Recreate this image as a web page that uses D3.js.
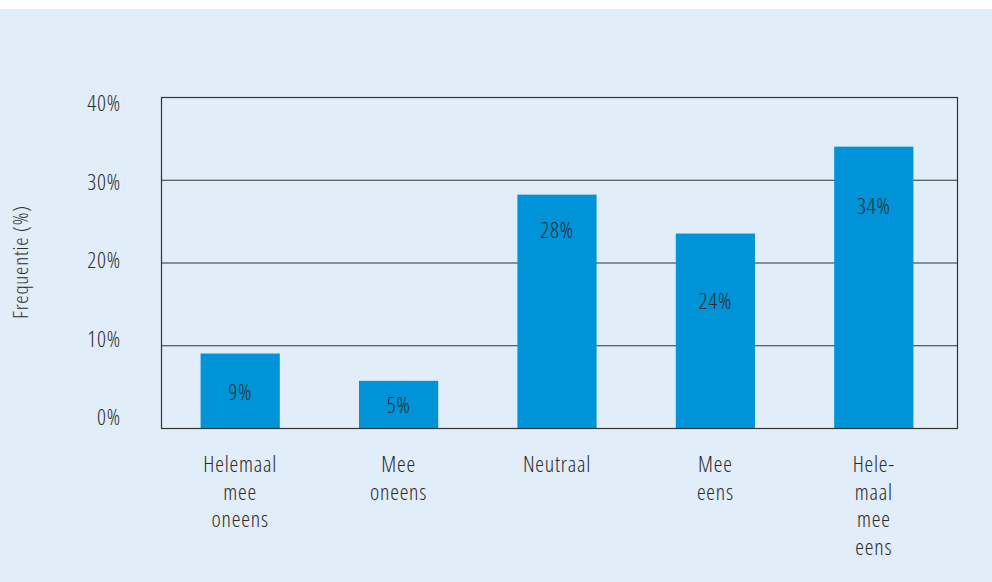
<!DOCTYPE html>
<html><head><meta charset="utf-8">
<script src="https://cdn.jsdelivr.net/npm/d3@7"></script>
<style>
html,body{margin:0;padding:0;background:#fff;}
svg text{font-family:"Open Sans","Noto Sans",sans-serif;fill:#2a2a2a;font-stretch:75%;letter-spacing:0.8px;}
</style></head>
<body><svg id="c" width="992" height="582"></svg>
<script>
const categories = [["Helemaal","mee","oneens"],["Mee","oneens"],["Neutraal"],["Mee","eens"],["Hele-","maal","mee","eens"]];
const values = [9.0, 5.7, 28.2, 23.5, 34.0];
const valueLabels = ["9%","5%","28%","24%","34%"];
const labelAt = [4.5, 2.9, 24.0, 15.5, 26.9];
const yTicks = [0,10,20,30,40];
const yTitle = "Frequentie (%)";

const svg = d3.select("#c");
svg.append("rect").attr("x",0).attr("y",9).attr("width",992).attr("height",573).attr("fill","#e1edf8");

const L=161, R=957, T=97, B=428;
const x = d3.scaleBand().domain(d3.range(values.length)).range([L,953]).paddingInner(0.5).paddingOuter(0.25);
const y = d3.scaleLinear().domain([0,40]).range([B,T]);
const yLab = d3.scaleLinear().domain([0,40]).range([416,102]);

svg.append("g").selectAll("line").data(yTicks.filter(d=>d>0&&d<40)).join("line")
  .attr("x1",L).attr("x2",R).attr("y1",d=>y(d)+0.5).attr("y2",d=>y(d)+0.5)
  .attr("stroke","#333").attr("stroke-width",1.2);

svg.append("g").selectAll("rect").data(values).join("rect")
  .attr("x",(d,i)=>x(i)).attr("width",x.bandwidth())
  .attr("y",d=>y(d)).attr("height",d=>B-y(d)).attr("fill","#0093d8");

svg.append("rect").attr("x",L+0.5).attr("y",T+0.5).attr("width",R-L).attr("height",B-T)
  .attr("fill","none").attr("stroke","#333").attr("stroke-width",1.2);

svg.append("g").selectAll("text").data(valueLabels).join("text")
  .attr("x",(d,i)=>x(i)+x.bandwidth()/2).attr("y",(d,i)=>y(labelAt[i]))
  .attr("text-anchor","middle").attr("dominant-baseline","central")
  .attr("font-size",22).attr("font-weight",300).text(d=>d);

svg.append("g").selectAll("text").data(yTicks).join("text")
  .attr("x",121).attr("y",d=>yLab(d)).attr("text-anchor","end").attr("dominant-baseline","central")
  .attr("font-size",22).attr("font-weight",300).text(d=>d+"%");

svg.append("text").attr("transform","translate(20,262) rotate(-90)")
  .attr("text-anchor","middle").attr("dominant-baseline","central")
  .attr("font-size",21).attr("font-weight",300).text(yTitle);

const xg = svg.append("g").selectAll("text").data(categories).join("text")
  .attr("text-anchor","middle").attr("font-size",22).attr("font-weight",300);
xg.selectAll("tspan").data((d,i)=>d.map(s=>({s,i}))).join("tspan")
  .attr("x",d=>x(d.i)+x.bandwidth()/2).attr("y",(d,j)=>463+j*27.5)
  .attr("dominant-baseline","central").text(d=>d.s);
</script></body></html>
